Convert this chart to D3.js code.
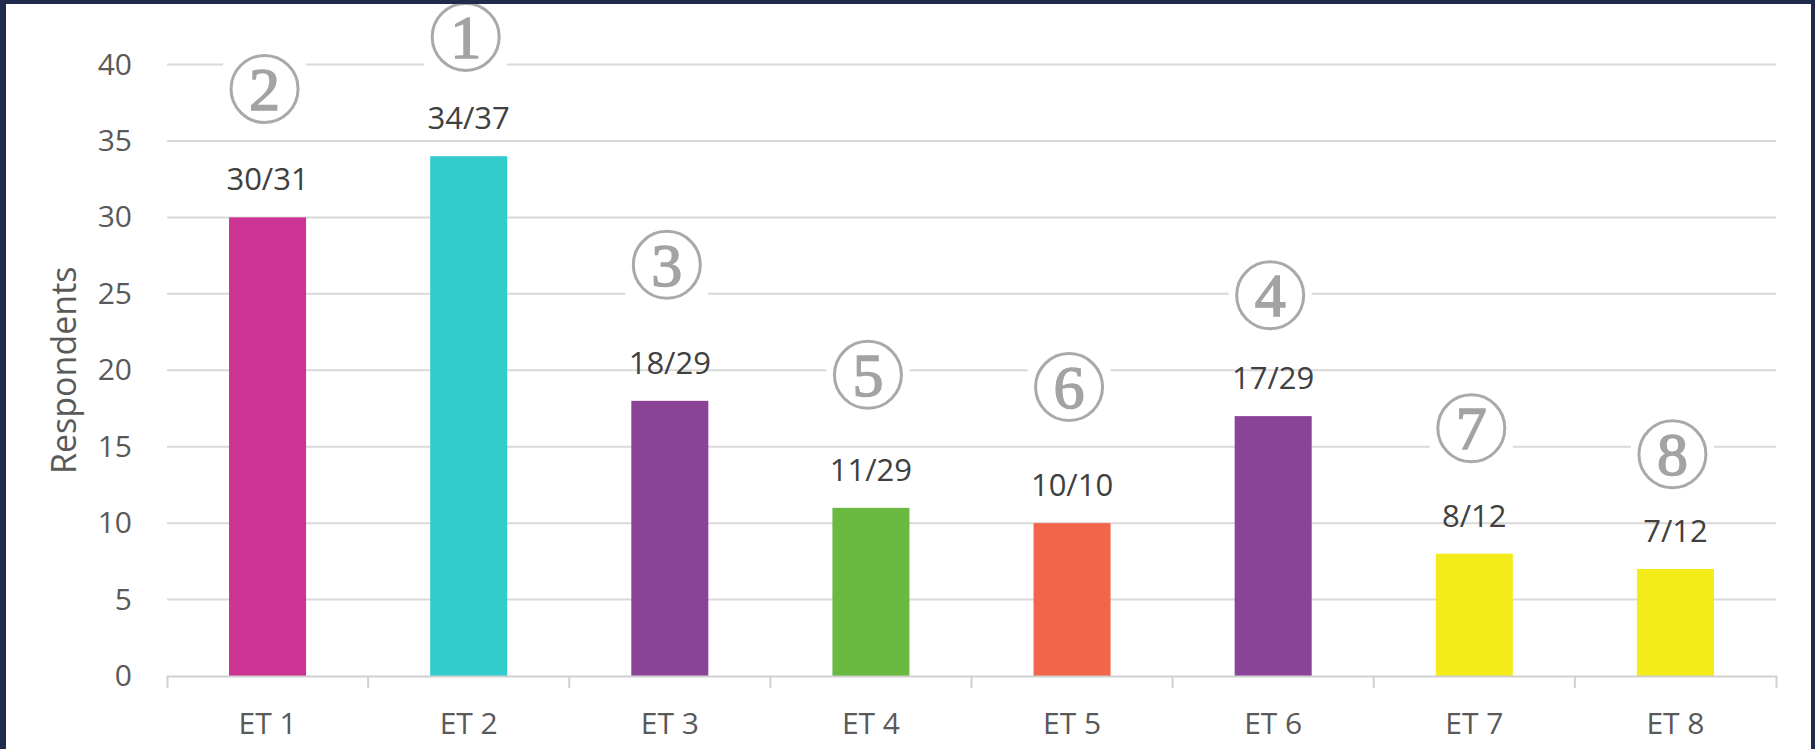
<!DOCTYPE html>
<html lang="en">
<head>
    <meta charset="UTF-8">
    <title>Respondents per ET</title>
    <script src="https://d3js.org/d3.v7.min.js"></script>
    <style>
        body { margin: 0; background: #1e2b4a; }
        svg { display: block; }
        text { font-family: "Open Sans", sans-serif; }
    </style>
</head>
<body>
<svg width="1815" height="749"></svg>
<script>
    // Data
    const categories = ["ET 1", "ET 2", "ET 3", "ET 4", "ET 5", "ET 6", "ET 7", "ET 8"];
    const respondents = [30, 34, 18, 11, 10, 17, 8, 7];
    const totals = [31, 37, 29, 29, 10, 29, 12, 12];
    const ranks = [2, 1, 3, 5, 6, 4, 7, 8];
    // height (in respondents) where each rank badge sits
    const rankLevels = [38.4, 41.8, 26.9, 19.7, 18.9, 24.9, 16.2, 14.5];
    const barColors = ["#cc3393", "#33cccc", "#8b4398", "#6ab941", "#f2654a", "#8b4398", "#f3ec1a", "#f3ec1a"];
    const yTicks = [0, 5, 10, 15, 20, 25, 30, 35, 40];

    const svg = d3.select("svg");

    // white panel on the dark page
    svg.append("rect").attr("width", 1815).attr("height", 749).attr("fill", "#1e2b4a");
    svg.append("rect").attr("x", 6).attr("y", 4).attr("width", 1805).attr("height", 745).attr("fill", "#ffffff");

    const plotLeft = 167, plotRight = 1776, plotBottom = 676, plotTop = 64.5;

    const x = d3.scaleBand().domain(categories).range([plotLeft, plotRight])
        .paddingInner(0.617).paddingOuter(0.3085);
    const y = d3.scaleLinear().domain([0, 40]).range([plotBottom, plotTop]);

    // gridlines
    svg.append("g").selectAll("line").data(yTicks.filter(d => d > 0)).join("line")
        .attr("x1", plotLeft).attr("x2", plotRight)
        .attr("y1", d => y(d)).attr("y2", d => y(d))
        .attr("stroke", "#d9d9d9").attr("stroke-width", 2);

    // y axis labels
    const yAxis = svg.append("g").attr("transform", `translate(${plotLeft - 35},0)`)
        .call(d3.axisLeft(y).tickValues(yTicks).tickSize(0).tickPadding(0));
    yAxis.select(".domain").remove();
    yAxis.selectAll("text").attr("fill", "#595959").style("font-size", "30px")
        .style("font-family", "'Open Sans', sans-serif");

    // y axis title
    svg.append("text")
        .attr("transform", `translate(76,${(plotTop + plotBottom) / 2}) rotate(-90)`)
        .attr("text-anchor", "middle")
        .attr("fill", "#595959")
        .style("font-size", "34px")
        .text("Respondents");

    // bars
    svg.append("g").selectAll("rect").data(categories).join("rect")
        .attr("x", d => x(d))
        .attr("width", x.bandwidth())
        .attr("y", (d, i) => y(respondents[i]))
        .attr("height", (d, i) => plotBottom - y(respondents[i]))
        .attr("fill", (d, i) => barColors[i]);

    // x axis
    const xAxis = svg.append("g").attr("transform", `translate(0,${plotBottom})`)
        .call(d3.axisBottom(x).tickSize(0).tickSizeOuter(12).tickPadding(37));
    xAxis.select(".domain").attr("stroke", "#d0d0d0").attr("stroke-width", 2);
    xAxis.selectAll("text").attr("fill", "#595959").style("font-size", "30px")
        .style("font-family", "'Open Sans', sans-serif");
    xAxis.selectAll(".sep").data(categories.slice(1)).join("line")
        .attr("class", "sep")
        .attr("x1", d => x(d) + x.bandwidth() / 2 - x.step() / 2)
        .attr("x2", d => x(d) + x.bandwidth() / 2 - x.step() / 2)
        .attr("y1", 0).attr("y2", 12)
        .attr("stroke", "#d0d0d0").attr("stroke-width", 2);

    // value labels
    svg.append("g").selectAll("text").data(categories).join("text")
        .attr("x", d => x(d) + x.bandwidth() / 2)
        .attr("y", (d, i) => y(respondents[i]) - 27)
        .attr("text-anchor", "middle")
        .attr("fill", "#404040")
        .style("font-size", "31px")
        .text((d, i) => `${respondents[i]}/${totals[i]}`);

    // rank badges
    const r = 33.5;
    const badge = svg.append("g").selectAll("g").data(categories).join("g")
        .attr("transform", (d, i) => `translate(${x(d) + x.bandwidth() / 2 - 3},${y(rankLevels[i])})`);
    badge.append("rect")
        .attr("x", -r - 8).attr("y", -r).attr("width", 2 * r + 16).attr("height", 2 * r)
        .attr("fill", "#ffffff");
    badge.append("circle").attr("r", r)
        .attr("fill", "#ffffff").attr("stroke", "#a9a9a9").attr("stroke-width", 3);
    badge.append("text")
        .attr("y", 21)
        .attr("text-anchor", "middle")
        .attr("fill", "#a3a3a3")
        .attr("stroke", "#a3a3a3").attr("stroke-width", 1.5)
        .style("font-family", "'Liberation Serif', serif")
        .style("font-size", "62px")
        .text((d, i) => ranks[i]);

    // keep the dark top edge above the badges
    svg.append("rect").attr("width", 1815).attr("height", 4).attr("fill", "#1e2b4a");
</script>
</body>
</html>
